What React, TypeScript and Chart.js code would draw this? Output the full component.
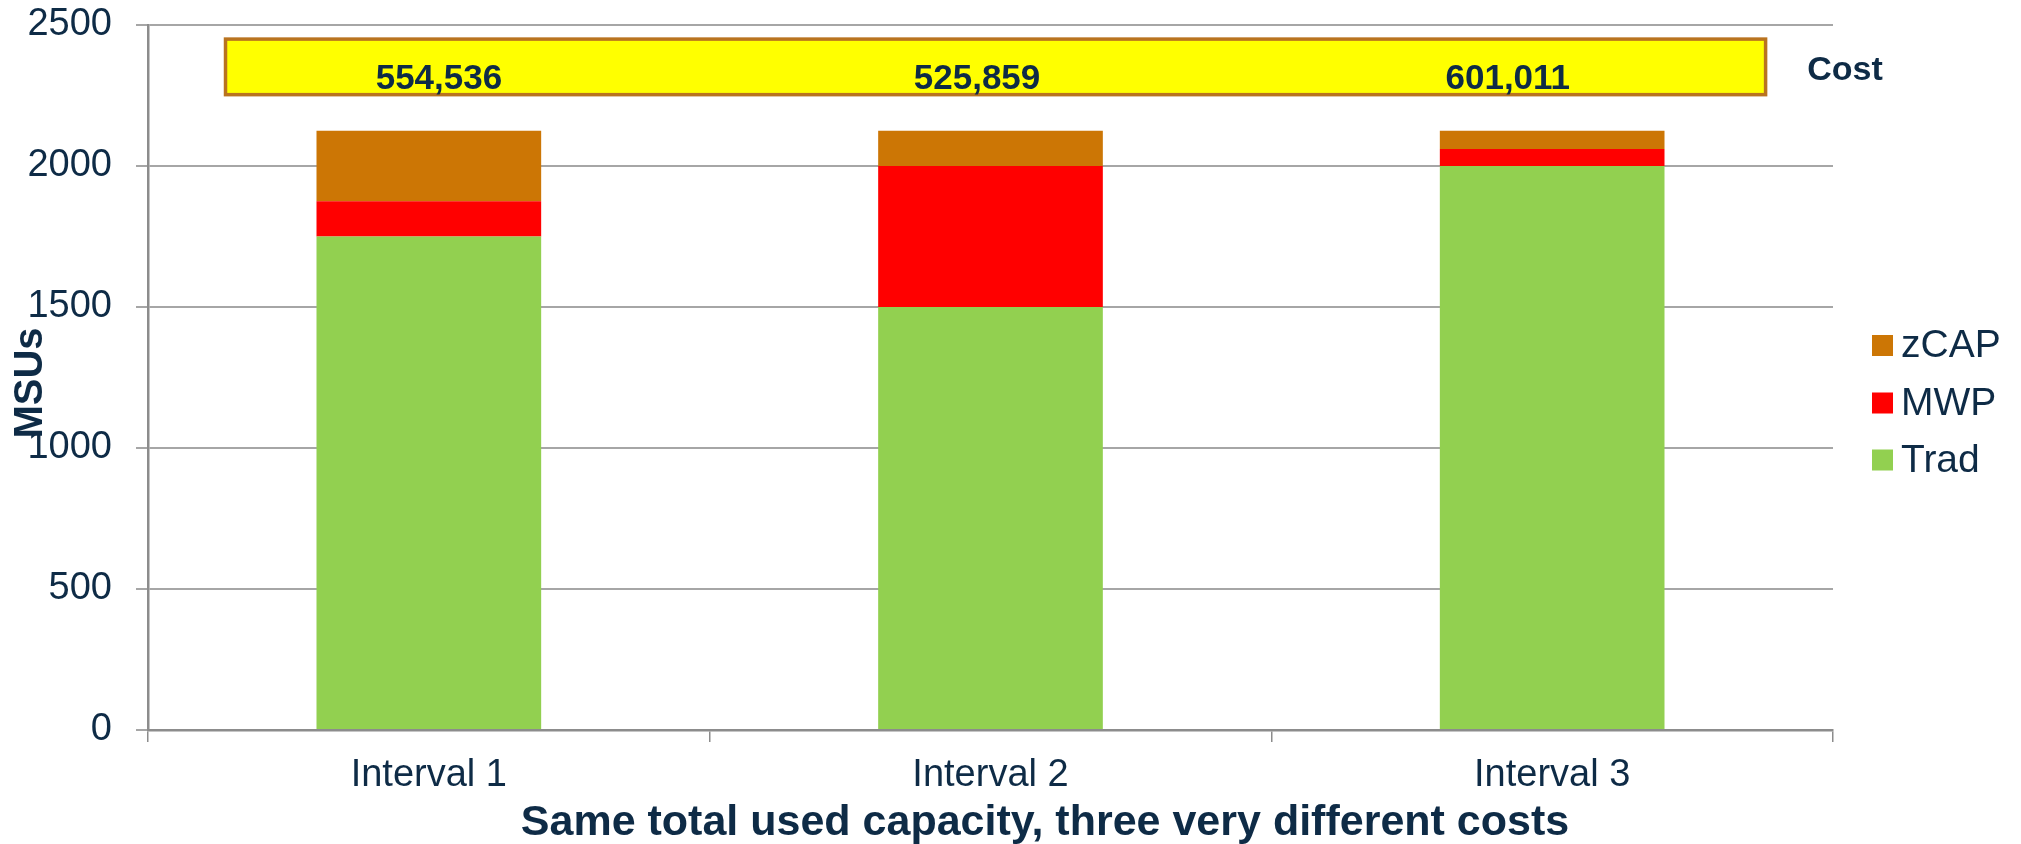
import React, { useEffect, useRef } from "react";
import { Chart, registerables } from "chart.js";

Chart.register(...registerables);

// Capacity mix per interval (MSUs)
const categories = ["Interval 1", "Interval 2", "Interval 3"];
const tradValues = [1750, 1500, 2000];
const mwpValues = [125, 500, 60];
const zcapValues = [250, 125, 65];

// Cost of each interval
const costValues = [554536, 525859, 601011];
const costTitle = "Cost";

// Axis settings
const yMin = 0;
const yMax = 2500;
const yStep = 500;
const yTitle = "MSUs";
const xTitle = "Same total used capacity, three very different costs";

const FONT = '"Liberation Sans", Arial, Helvetica, sans-serif';
const NAVY = "#0e2b46";
const AXIS_GRAY = "#8c8c8c";
const GRID_GRAY = "#a6a6a6";

// Layout of the cost band drawn above the bars
const costBand = { fromCat: -0.362, toCat: 2.38, low: 2253, high: 2450 };
const costLabelShift = [0.018, -0.024, -0.079];
const costLabelBaseline = 2272;

const overlayPlugin = {
  id: "costOverlay",
  afterDraw(chart: any) {
    const { ctx, chartArea } = chart;
    const xs = chart.scales.x;
    const ys = chart.scales.y;
    ctx.save();

    // yellow cost band
    const bx0 = xs.getPixelForValue(costBand.fromCat);
    const bx1 = xs.getPixelForValue(costBand.toCat);
    const by0 = ys.getPixelForValue(costBand.high);
    const by1 = ys.getPixelForValue(costBand.low);
    ctx.fillStyle = "#ffff00";
    ctx.fillRect(bx0, by0, bx1 - bx0, by1 - by0);
    ctx.lineWidth = 3.5;
    ctx.strokeStyle = "#b9731f";
    ctx.strokeRect(bx0, by0, bx1 - bx0, by1 - by0);

    // cost values
    ctx.fillStyle = NAVY;
    ctx.font = `bold 35px ${FONT}`;
    ctx.textAlign = "center";
    ctx.textBaseline = "alphabetic";
    const baseY = ys.getPixelForValue(costLabelBaseline);
    costValues.forEach((v, i) => {
      const x = xs.getPixelForValue(i + costLabelShift[i]);
      ctx.fillText(v.toLocaleString("en-US"), x, baseY);
    });

    // "Cost" caption to the right of the band
    ctx.font = `bold 34px ${FONT}`;
    ctx.fillText(costTitle, chartArea.right + 12, by0 + 41);

    // legend (top entry = top of stack)
    const ds = chart.data.datasets;
    const order = ds.map((_: any, i: number) => i).reverse();
    const lx = chartArea.right + 39;
    const centers = [345.5, 403, 460];
    ctx.font = `39px ${FONT}`;
    ctx.textAlign = "left";
    ctx.textBaseline = "middle";
    order.forEach((di: number, k: number) => {
      const cy = centers[k];
      ctx.fillStyle = ds[di].backgroundColor;
      ctx.fillRect(lx, cy - 10.5, 21, 21);
      ctx.fillStyle = NAVY;
      ctx.fillText(ds[di].label, lx + 29, cy + 1);
    });

    // y-axis title
    ctx.save();
    ctx.translate(42, 383);
    ctx.rotate(-Math.PI / 2);
    ctx.font = `bold 40px ${FONT}`;
    ctx.textAlign = "center";
    ctx.textBaseline = "alphabetic";
    ctx.fillStyle = NAVY;
    ctx.fillText(yTitle, 0, 0);
    ctx.restore();

    // x-axis title
    ctx.font = `bold 43px ${FONT}`;
    ctx.textAlign = "center";
    ctx.textBaseline = "alphabetic";
    ctx.fillStyle = NAVY;
    ctx.fillText(xTitle, 1045, 835);

    ctx.restore();
  },
};

export default function App() {
  const canvasRef = useRef<HTMLCanvasElement | null>(null);

  useEffect(() => {
    if (!canvasRef.current) return;
    const chart = new Chart(canvasRef.current, {
      type: "bar",
      data: {
        labels: categories,
        datasets: [
          { label: "Trad", data: tradValues, backgroundColor: "#92d050" },
          { label: "MWP", data: mwpValues, backgroundColor: "#ff0000" },
          { label: "zCAP", data: zcapValues, backgroundColor: "#cc7605" },
        ],
      },
      options: {
        animation: false,
        responsive: true,
        maintainAspectRatio: false,
        layout: { padding: { top: 25, right: 188, left: 0, bottom: 0 } },
        datasets: {
          bar: { categoryPercentage: 1, barPercentage: 0.4, borderWidth: 0 },
        },
        plugins: {
          legend: { display: false },
          tooltip: { enabled: false },
          title: { display: false },
        },
        scales: {
          x: {
            type: "category",
            stacked: true,
            offset: true,
            grid: {
              display: true,
              offset: true,
              drawOnChartArea: false,
              drawTicks: true,
              tickLength: 12,
              color: AXIS_GRAY,
              lineWidth: 1.5,
            },
            border: { display: true, color: AXIS_GRAY, width: 2.5 },
            ticks: {
              color: NAVY,
              font: { family: FONT, size: 38 },
              padding: 11,
              maxRotation: 0,
              autoSkip: false,
            },
            afterFit: (scale: any) => {
              scale.height = 114;
            },
          },
          y: {
            stacked: true,
            min: yMin,
            max: yMax,
            ticks: {
              stepSize: yStep,
              color: NAVY,
              font: { family: FONT, size: 38 },
              padding: 24,
              callback: (value: any) => String(value),
            },
            grid: {
              color: GRID_GRAY,
              lineWidth: 2,
              tickLength: 12,
              drawTicks: true,
            },
            border: { display: true, color: AXIS_GRAY, width: 2.5 },
            afterFit: (scale: any) => {
              scale.width = 148;
              scale.paddingTop = 0;
              scale.paddingBottom = 0;
            },
          },
        },
      },
      plugins: [overlayPlugin],
    });
    return () => chart.destroy();
  }, []);

  return (
    <div
      style={{
        position: "fixed",
        left: 0,
        top: 0,
        width: "2021px",
        height: "844px",
        background: "#ffffff",
      }}
    >
      <canvas ref={canvasRef} />
    </div>
  );
}
